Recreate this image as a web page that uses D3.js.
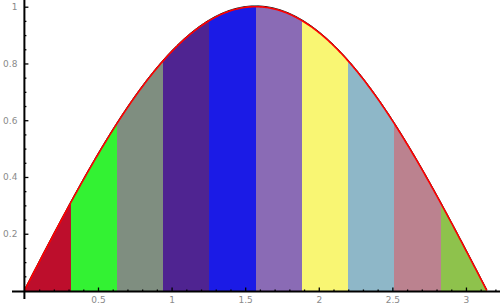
<!DOCTYPE html>
<html>
<head>
<meta charset="utf-8">
<script src="https://cdn.jsdelivr.net/npm/d3@7"></script>
<style>
  body { margin: 0; background: #fff; }
  .tick text { fill: #8a8a8a; font-family: "DejaVu Sans", sans-serif; font-size: 9px; }
</style>
</head>
<body>
<div id="chart"></div>
<script>
// strips of equal width under the curve, left to right
const stripColors = ["#bd0e2c", "#33f233", "#7f8e80", "#4f2491", "#1b1be6",
                     "#8a6bb5", "#f9f673", "#8eb7c8", "#bb828f", "#8ec24c"];
const xStart = 0, xEnd = Math.PI;        // plotted range of sin(x)
const xMajor = [0.5, 1, 1.5, 2, 2.5, 3];
const xMajorLabels = ["0.5", "1", "1.5", "2", "2.5", "3"];
const yMajor = [0.2, 0.4, 0.6, 0.8, 1];
const yMajorLabels = ["0.2", "0.4", "0.6", "0.8", "1"];

const width = 500, height = 308;

const svg = d3.select("#chart").append("svg")
  .attr("width", width).attr("height", height);

const x = d3.scaleLinear().domain([0, 3.2]).range([24.4, 495.4]);
const y = d3.scaleLinear().domain([0, 1]).range([290.5, 6.7]);

const f = Math.sin;
const n = stripColors.length;
const step = (xEnd - xStart) / n;

// filled strips
const area = d3.area().x(d => x(d)).y0(y(0)).y1(d => y(f(d)));
stripColors.forEach((c, i) => {
  const a = xStart + i * step, b = a + step;
  const pts = d3.range(0, 41).map(k => a + (b - a) * k / 40);
  svg.append("path")
    .attr("d", area(pts))
    .attr("fill", c)
    .attr("shape-rendering", "crispEdges");
});

// curve
const curvePts = d3.range(0, 401).map(k => xStart + (xEnd - xStart) * k / 400);
const line = d3.line().x(d => x(d)).y(d => y(f(d)));
svg.append("path")
  .attr("d", line(curvePts))
  .attr("transform", "translate(0,-0.8)")
  .attr("fill", "none").attr("stroke", "#000").attr("stroke-width", 1);
svg.append("path")
  .attr("d", line(curvePts))
  .attr("fill", "none").attr("stroke", "#ff0000").attr("stroke-width", 1.6);

// axes
const xMinor = d3.range(1, 33).map(k => k / 10).filter(v => !xMajor.some(m => Math.abs(m - v) < 1e-9));
const yMinor = d3.range(1, 21).map(k => k / 20).filter(v => !yMajor.some(m => Math.abs(m - v) < 1e-9));

const gx = svg.append("g").attr("transform", `translate(0,${y(0) + 1})`);
gx.append("g").call(d3.axisBottom(x).tickValues(xMinor).tickSize(-2).tickFormat(""));
gx.append("g").call(d3.axisBottom(x).tickValues(xMajor).tickSize(-4).tickPadding(5)
  .tickFormat((d, i) => xMajorLabels[i]));
gx.selectAll(".domain").remove();
gx.append("line").attr("x1", 12).attr("x2", width).attr("stroke", "#000").attr("stroke-width", 2);

const gy = svg.append("g").attr("transform", `translate(${x(0)},0)`);
gy.append("g").call(d3.axisLeft(y).tickValues(yMinor).tickSize(-2).tickFormat(""));
gy.append("g").call(d3.axisLeft(y).tickValues(yMajor).tickSize(-4).tickPadding(7)
  .tickFormat((d, i) => yMajorLabels[i]));
gy.selectAll(".domain").remove();
gy.append("line").attr("y1", 0).attr("y2", 299).attr("stroke", "#000").attr("stroke-width", 2);

svg.selectAll(".tick line").attr("stroke", "#000").attr("stroke-width", 1.3);
</script>
</body>
</html>
